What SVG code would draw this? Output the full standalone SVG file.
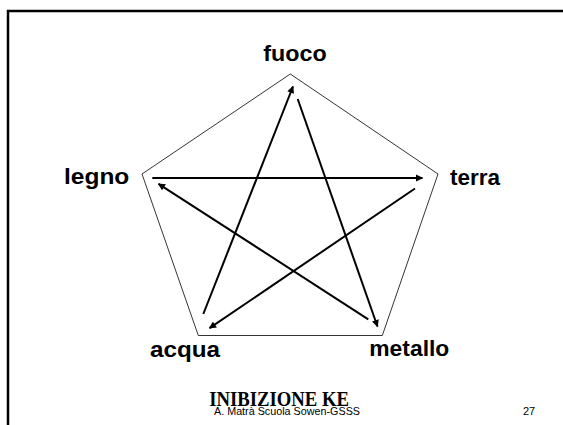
<svg xmlns="http://www.w3.org/2000/svg" width="563" height="425" viewBox="0 0 563 425">
<style>
.lbl{font-family:"Liberation Sans",Arial,sans-serif;font-weight:bold;font-size:22px;fill:#000}
.arr{stroke:#000;stroke-width:2;fill:none;marker-end:url(#ah)}
.foot{font-family:"Liberation Sans",Arial,sans-serif;font-size:11px;fill:#000}
</style>
<defs>
<marker id="ah" viewBox="0 0 10 10" refX="9" refY="5" markerWidth="4" markerHeight="3.6" orient="auto" markerUnits="strokeWidth">
<path d="M0,0 L10,5 L0,10 z" fill="#000"/>
</marker>
</defs>
<rect x="0" y="0" width="563" height="425" fill="#fff"/>
<path d="M8 425 V11 H563" fill="none" stroke="#000" stroke-width="2.5"/>
<polygon id="pentagon" points="290.3,74 438,174 382.3,335.5 198.3,335.5 142,174" fill="none" stroke="#000" stroke-width="0.8"/>
<g id="connectors">
<line class="arr" x1="203.3" y1="314" x2="293" y2="86.5"/>
<line class="arr" x1="297.7" y1="99" x2="377.5" y2="326.5"/>
<line class="arr" x1="368.3" y1="319.3" x2="158.5" y2="183.8"/>
<line class="arr" x1="152.3" y1="178" x2="422.5" y2="178"/>
<line class="arr" x1="415" y1="188.5" x2="209.5" y2="328.2"/>
</g>
<g id="fuoco"><text class="lbl" x="263.3" y="61" textLength="63.4" lengthAdjust="spacingAndGlyphs">fuoco</text></g>
<g id="legno"><text class="lbl" x="64" y="183.5" textLength="65.3" lengthAdjust="spacingAndGlyphs">legno</text></g>
<g id="terra"><text class="lbl" x="450" y="185" textLength="50" lengthAdjust="spacingAndGlyphs">terra</text></g>
<g id="acqua"><text class="lbl" x="150" y="356.5" textLength="70" lengthAdjust="spacingAndGlyphs">acqua</text></g>
<g id="metallo"><text class="lbl" x="369.3" y="356" textLength="80" lengthAdjust="spacingAndGlyphs">metallo</text></g>
<text x="209.3" y="405.5" font-family="'Liberation Serif','Times New Roman',serif" font-weight="bold" font-size="20" textLength="139.7" lengthAdjust="spacingAndGlyphs">INIBIZIONE KE</text>
<text class="foot" x="214" y="415" textLength="146" lengthAdjust="spacingAndGlyphs">A. Matrà Scuola Sowen-GSSS</text>
<text class="foot" x="523" y="415">27</text>
</svg>
